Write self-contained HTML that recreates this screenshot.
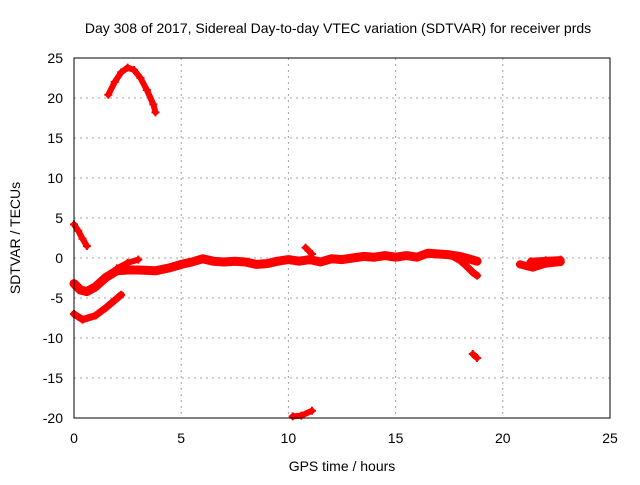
<!DOCTYPE html>
<html><head><meta charset="utf-8"><style>
body{margin:0;background:#fff;}
svg text{font-family:"Liberation Sans",sans-serif;font-size:14px;fill:#000;}
</style></head><body>
<svg id="chart" width="640" height="480">
<text x="338" y="33" text-anchor="middle">Day 308 of 2017, Sidereal Day-to-day VTEC variation (SDTVAR) for receiver prds</text>
<g id="grid"></g>
<g id="axes"></g>
<g id="series"></g>
<rect x="74" y="58" width="536" height="360" fill="none" stroke="#000" stroke-width="1"/>
<text x="342" y="471" text-anchor="middle">GPS time / hours</text>
<text transform="translate(20,238) rotate(-90)" text-anchor="middle">SDTVAR / TECUs</text>
</svg>
<script>
const xTicks=[0,5,10,15,20,25];
const yTicks=[-20,-15,-10,-5,0,5,10,15,20,25];
const segArc=[[1.6,20.4],[1.9,22],[2.2,23.2],[2.5,23.8],[2.8,23.5],[3.1,22.5],[3.4,21],[3.7,19.2],[3.8,18.2]];
const segEarly=[[0,4.2],[0.2,3.4],[0.4,2.4],[0.6,1.5]];
const segMain=[[0,-3.2],[0.3,-4],[0.6,-4.2],[1.0,-3.6],[1.5,-2.4],[2.0,-1.6],[2.5,-1.5],[3,-1.5],[3.8,-1.6],[4.5,-1.2],[5,-0.8],[5.5,-0.5],[6,-0.1],[6.5,-0.4],[7,-0.5],[7.5,-0.4],[8,-0.5],[8.5,-0.8],[9,-0.7],[9.5,-0.4],[10,-0.2],[10.5,-0.4],[11,-0.2],[11.5,-0.5],[12,-0.1],[12.5,-0.2],[13,0],[13.5,0.2],[14,0.1],[14.5,0.3],[15,0.1],[15.5,0.3],[16,0.1],[16.5,0.6],[17,0.5],[17.5,0.4],[18,0.2],[18.8,-0.4]];
const segBranch=[[2.0,-1.3],[2.5,-0.6],[3.0,-0.2]];
const segDrop=[[17.6,0.3],[18.0,-0.3],[18.3,-1.0],[18.6,-1.8],[18.8,-2.2]];
const segLow=[[0,-7],[0.4,-7.7],[1.0,-7.2],[1.5,-6.2],[2.2,-4.6]];
const segBottom=[[10.2,-19.8],[10.6,-19.7],[11.1,-19.1]];
const segSpike=[[10.8,1.3],[11.1,0.5]];
const segIso=[[18.6,-12],[18.8,-12.5]];
const segLate=[[20.8,-0.8],[21.4,-1.2],[22,-0.7],[22.7,-0.5]];
const segLate2=[[21.3,-0.4],[22,-0.3],[22.7,-0.2]];
const allSegs=[segArc,segEarly,segMain,segBranch,segDrop,segLow,segBottom,segSpike,segIso,segLate,segLate2];
const segNames=['arc','early','main','branch','drop','low','bottom','spike','isolated','late','late-upper'];
const segWidths=[6,6,9,6,7,7,6,6,6,8,7];
const NS='http://www.w3.org/2000/svg';
function X(h){return 74+h*(536/25);}
function Y(v){return 418-(v+20)*8;}
const grid=document.getElementById('grid'),axes=document.getElementById('axes'),ser=document.getElementById('series');
xTicks.forEach(t=>{
 if(t>0&&t<25){const l=document.createElementNS(NS,'line');
 l.setAttribute('x1',X(t));l.setAttribute('x2',X(t));l.setAttribute('y1',58);l.setAttribute('y2',418);
 l.setAttribute('stroke','#a0a0a0');l.setAttribute('stroke-dasharray','2,4');
 
 grid.appendChild(l);}
 const tx=document.createElementNS(NS,'text');tx.setAttribute('x',X(t));tx.setAttribute('y',443);tx.setAttribute('text-anchor','middle');tx.textContent=t;
 
 axes.appendChild(tx);
});
yTicks.forEach(t=>{
 if(t>-20&&t<25){const l=document.createElementNS(NS,'line');
 l.setAttribute('x1',74);l.setAttribute('x2',610);l.setAttribute('y1',Y(t));l.setAttribute('y2',Y(t));
 l.setAttribute('stroke','#a0a0a0');l.setAttribute('stroke-dasharray','2,4');
 
 grid.appendChild(l);}
 const tx=document.createElementNS(NS,'text');tx.setAttribute('x',63);tx.setAttribute('y',Y(t)+5);tx.setAttribute('text-anchor','end');tx.textContent=t;
 
 axes.appendChild(tx);
});
allSegs.forEach((s,i)=>{
 const p=document.createElementNS(NS,'polyline');
 p.setAttribute('points',s.map(d=>X(d[0])+','+Y(d[1])).join(' '));
 p.setAttribute('fill','none');p.setAttribute('stroke','#ff0000');p.setAttribute('stroke-width',segWidths[i]);p.setAttribute('stroke-linejoin','round');p.setAttribute('stroke-linecap','round');
 
 ser.appendChild(p);
 s.forEach(d=>{
  const m=document.createElementNS(NS,'path');const x=X(d[0]),y=Y(d[1]);
  m.setAttribute('d',`M${x-4},${y}H${x+4}M${x},${y-4}V${y+4}`);m.setAttribute('stroke','#ff0000');m.setAttribute('stroke-width','2');
  
  ser.appendChild(m);
 });
});
</script>
</body></html>
